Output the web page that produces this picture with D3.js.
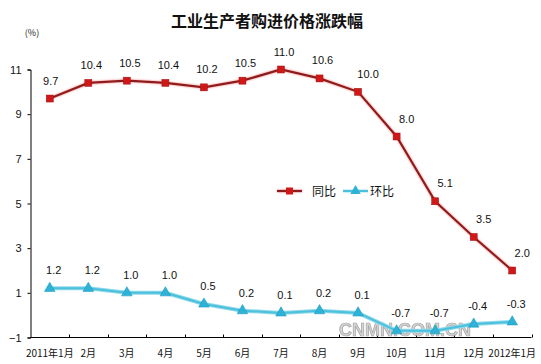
<!DOCTYPE html>
<html><head><meta charset="utf-8">
<script src="https://cdn.jsdelivr.net/npm/d3@7"></script>
<style>
body{margin:0;background:#fff;}
svg{display:block;}
text{font-family:"Liberation Sans",Arial,sans-serif;}
.cjk{font-family:"Noto Sans CJK SC","Noto Sans",sans-serif;}
</style></head>
<body>
<script>
const categories = ["2011年1月","2月","3月","4月","5月","6月","7月","8月","9月","10月","11月","12月","2012年1月"];
const yoy = [9.7,10.4,10.5,10.4,10.2,10.5,11.0,10.6,10.0,8.0,5.1,3.5,2.0];
const mom = [1.2,1.2,1.0,1.0,0.5,0.2,0.1,0.2,0.1,-0.7,-0.7,-0.4,-0.3];
const yTicks = [-1,1,3,5,7,9,11];
const seriesNames = ["同比","环比"];
const title = "工业生产者购进价格涨跌幅";

const W=541,H=364;
const svg=d3.select("body").append("svg").attr("width",W).attr("height",H);
const defs=svg.append("defs");
const f1=defs.append("filter").attr("id","glowR").attr("filterUnits","userSpaceOnUse")
  .attr("x",0).attr("y",0).attr("width",W).attr("height",H);
f1.append("feGaussianBlur").attr("in","SourceAlpha").attr("stdDeviation",1.2).attr("result","b");
f1.append("feFlood").attr("flood-color","#f06060").attr("flood-opacity",0.8);
f1.append("feComposite").attr("in2","b").attr("operator","in").attr("result","g");
const m1=f1.append("feMerge");m1.append("feMergeNode").attr("in","g");m1.append("feMergeNode").attr("in","SourceGraphic");

const x0=30.5,x1=531.5,yTop=69.5,yBot=337.5;
const x=d3.scaleBand().domain(categories).range([x0,x1]);
const y=d3.scaleLinear().domain([-1,11]).range([yBot,yTop]);
const cx=(c)=>x(c)+x.bandwidth()/2;

// title
svg.append("text").attr("class","cjk").attr("x",267).attr("y",27).attr("text-anchor","middle")
  .attr("font-size",16).attr("font-weight","bold").attr("fill","#111").text(title);
svg.append("text").attr("class","cjk").attr("x",32).attr("y",36).attr("text-anchor","middle")
  .attr("font-size",9).attr("fill","#222").text("(%)");

// y axis
const ya=svg.append("g").attr("transform",`translate(${x0},0)`)
  .call(d3.axisLeft(y).tickValues(yTicks).tickSize(3).tickFormat(d3.format("d")));
ya.select(".domain").attr("stroke","#000");
ya.selectAll("line").attr("stroke","#000");
ya.selectAll("text").attr("font-size",11).attr("fill","#111").attr("x",-9)
  .attr("font-family","Liberation Sans, Arial, sans-serif");

// x axis
const xa=svg.append("g").attr("transform",`translate(0,${yBot})`)
  .call(d3.axisBottom(x).tickSize(0).tickSizeOuter(0));
xa.select(".domain").attr("stroke","#000").attr("d",`M${x0},0H${x1}`);
xa.selectAll("text").attr("class","cjk").attr("font-size",10).attr("fill","#111").attr("dy",0).attr("y",19)
  .attr("font-family","Noto Sans CJK SC, sans-serif");
const bounds=categories.map(c=>x(c)).slice(1).concat([x1]);
xa.selectAll(".bt").data(bounds).join("line").attr("class","bt")
  .attr("x1",d=>Math.round(d)+0.5).attr("x2",d=>Math.round(d)+0.5).attr("y1",0).attr("y2",-3).attr("stroke","#000");

// watermark
svg.append("text").attr("x",405).attr("y",336).attr("text-anchor","middle")
  .attr("font-size",18).attr("font-weight","bold").attr("fill","#cfcfcf").attr("stroke","#9a9a9a").attr("stroke-width",0.7)
  .attr("opacity",0.9).text("CNMN.COM.CN");

const line=d3.line().x((d,i)=>cx(categories[i])).y(d=>y(d));

// 环比 series
const gM=svg.append("g");
gM.append("path").datum(mom).attr("d",line).attr("fill","none").attr("stroke","#8fdaea").attr("stroke-width",4);
gM.append("path").datum(mom).attr("d",line).attr("fill","none").attr("stroke","#4cc0dc").attr("stroke-width",2);
const tri=d3.symbol().type(d3.symbolTriangle).size(48);
gM.selectAll("path.m").data(mom).join("path").attr("class","m")
  .attr("d",tri).attr("transform",(d,i)=>`translate(${cx(categories[i])},${y(d)})`)
  .attr("fill","#2fb2d6").attr("stroke","#1a9cc4").attr("stroke-width",0.6);
gM.selectAll("text.l").data(mom).join("text").attr("class","l")
  .attr("x",(d,i)=>cx(categories[i])+4).attr("y",d=>y(d)-14).attr("text-anchor","middle")
  .attr("font-size",11).attr("fill","#111").text(d=>d.toFixed(1));

// 同比 series
const gY=svg.append("g");
gY.append("path").datum(yoy).attr("d",line).attr("fill","none").attr("stroke","#8e1c1c").attr("stroke-width",2.2).attr("filter","url(#glowR)");
gY.selectAll("rect.m").data(yoy).join("rect").attr("class","m")
  .attr("x",(d,i)=>cx(categories[i])-3.5).attr("y",d=>y(d)-3.5).attr("width",7).attr("height",7)
  .attr("fill","#d01818").attr("stroke","#a01010").attr("stroke-width",0.5);
gY.selectAll("text.l").data(yoy).join("text").attr("class","l")
  .attr("x",(d,i)=>cx(categories[i])+(i>=8?10:i===0?1:3)).attr("y",d=>y(d)-14).attr("text-anchor","middle")
  .attr("font-size",11).attr("fill","#111").text(d=>d.toFixed(1));

// legend
const lg=svg.append("g");
lg.append("line").attr("x1",277).attr("x2",302).attr("y1",191).attr("y2",191).attr("stroke","#8e1c1c").attr("stroke-width",2.2).attr("filter","url(#glowR)");
lg.append("rect").attr("x",286).attr("y",187.5).attr("width",7).attr("height",7).attr("fill","#d01818");
lg.append("text").attr("class","cjk").attr("x",312).attr("y",196).attr("font-size",12).attr("fill","#111").text(seriesNames[0]);
lg.append("line").attr("x1",343).attr("x2",368).attr("y1",191).attr("y2",191).attr("stroke","#4cc0dc").attr("stroke-width",2.5);
lg.append("path").attr("d",tri).attr("transform","translate(355.5,191)").attr("fill","#2fb2d6");
lg.append("text").attr("class","cjk").attr("x",370).attr("y",196).attr("font-size",12).attr("fill","#111").text(seriesNames[1]);
</script>
</body></html>
